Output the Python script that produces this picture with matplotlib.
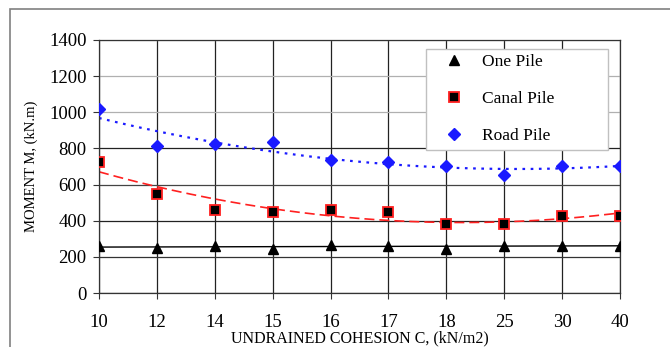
import numpy as np
import matplotlib
matplotlib.use("Agg")
import matplotlib.pyplot as plt
from matplotlib.patches import Rectangle

# data
cohesion = ["10", "12", "14", "15", "16", "17", "18", "25", "30", "40"]
one_pile = [258, 248, 262, 246, 268, 262, 246, 262, 262, 262]
canal_pile = [727, 548, 461, 450, 461, 450, 382, 382, 426, 426]
road_pile = [1016, 815, 823, 834, 736, 723, 703, 653, 703, 703]

plt.rcParams['font.family'] = ['Liberation Serif', 'DejaVu Serif']

fig = plt.figure(figsize=(6.7, 3.47), dpi=100)
ax = fig.add_axes([99/670, 1 - 293/347, 521/670, 253/347])

# outer frame of the figure
fig.patches.append(Rectangle((10/670, -0.05), 1.0, 1 - 9/347 + 0.05,
                             transform=fig.transFigure, fill=False,
                             edgecolor='#808080', linewidth=1.2))

x = np.arange(len(cohesion))
xf = np.linspace(0, len(cohesion) - 1, 200)

# trend lines (polynomial fits of the series)
p_one = np.polyfit(x, one_pile, 1)
p_canal = np.polyfit(x, canal_pile, 2)
p_road = np.polyfit(x, road_pile, 2)
ax.plot(xf, np.polyval(p_one, xf), color='black', lw=1.0, zorder=2)
ax.plot(xf, np.polyval(p_canal, xf), color='#ff2020', lw=1.2, ls=(0, (6, 3)), zorder=2)
ax.plot(xf, np.polyval(p_road, xf), color='#1a1aff', lw=1.6, ls=(0, (1.2, 2.5)), zorder=2)

ax.plot(x, one_pile, ls='none', marker='^', ms=7.5, color='black', label='One Pile', zorder=4)
ax.plot(x, canal_pile, ls='none', marker='s', ms=7, mfc='black', mec='#ff2020', mew=1.3,
        label='Canal Pile', zorder=4)
ax.plot(x, road_pile, ls='none', marker='D', ms=6.5, color='#1a1aff', label='Road Pile', zorder=4)

ax.set_xlim(0, len(cohesion) - 1)
ax.set_ylim(0, 1400)
ax.set_yticks(np.arange(0, 1401, 200))
ax.set_xticks(x)
ax.set_xticklabels(cohesion)
ax.tick_params(labelsize=13.5, length=4, color='#333333', pad=5)
ax.tick_params(axis='x', pad=11)

ax.grid(True, axis='x', color='#222222', lw=0.9)
ax.grid(True, axis='y', color='#555555', lw=0.9)
for line, c in zip(ax.get_ygridlines(), ['#222222', '#333333', '#222222', '#444444',
                                          '#222222', '#b0b0b0', '#b0b0b0', '#b0b0b0']):
    line.set_color(c)
for s in ax.spines.values():
    s.set_color('#333333')
    s.set_linewidth(0.9)

ax.set_xlabel('UNDRAINED COHESION C, (kN/m2)', fontsize=11.5, labelpad=0)
ax.set_ylabel('MOMENT M, (kN.m)', fontsize=10.5, labelpad=8)

leg_top = 1 - 9/253
leg = ax.legend(loc='upper left',
                bbox_to_anchor=((426 - 99)/521, leg_top - 0.1, 182/521, 0.1),
                mode='expand', fontsize=12.5, frameon=True, fancybox=False,
                handlelength=2.6, labelspacing=1.2, borderpad=0.3,
                handletextpad=0.3, borderaxespad=0)
leg.get_frame().set_edgecolor('#c0c0c0')
leg.get_frame().set_linewidth(1.0)
leg.get_frame().set_alpha(1)

fig.savefig('out.png', dpi=100)
